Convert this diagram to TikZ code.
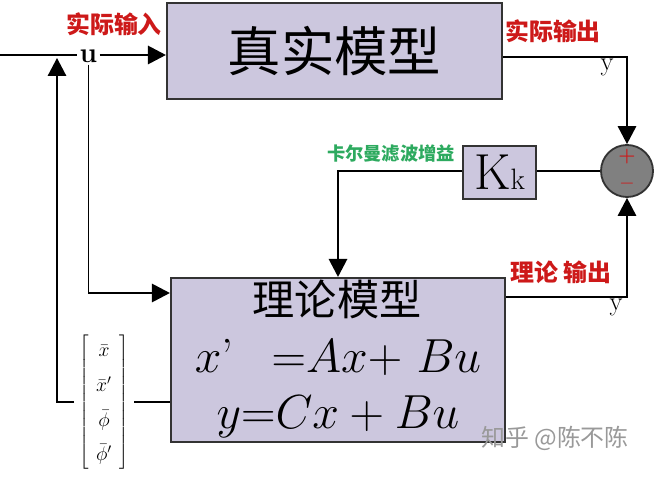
\RequirePackage{fix-cm}
\documentclass[tikz,border=0pt]{standalone}
\usepackage{fontspec}
\newfontfamily\cjk{Noto Sans CJK SC}
\usetikzlibrary{arrows.meta}
\definecolor{modelfill}{RGB}{204,199,222}
\definecolor{labelred}{RGB}{205,25,25}
\definecolor{labelgreen}{RGB}{45,170,95}

\begin{document}
\begin{tikzpicture}[x=0.025cm, y=-0.025cm, line width=1.3pt, >={Triangle[length=4.5mm, width=4.6mm]},
    model/.style={draw=black!80, line width=1.5pt, fill=modelfill, inner sep=0pt},
    redlabel/.style={text=labelred, font=\cjk\bfseries\fontsize{17}{17}\selectfont},
    sig/.style={inner sep=1pt, font=\fontsize{19}{19}\selectfont}]
  \useasboundingbox (0,0) rectangle (655,477);
  \node[model, minimum width=8.375cm, minimum height=2.4cm, font=\cjk\fontsize{38}{38}\selectfont] (real) at (334.5,51) {真实模型};
  \node[model, minimum width=8.35cm, minimum height=4.1cm] (theory) at (338,360) {};
  \node[font=\cjk\fontsize{30}{30}\selectfont] (title) at (337,299) {理论模型};
  \node[anchor=base, font=\fontsize{34}{34}\selectfont] (eqx) at (338,372) {$x$’\hspace{0.8em}$\mathord{=}Ax\mathord{+}\hspace{0.3em}Bu$};
  \node[anchor=base, font=\fontsize{34}{34}\selectfont] (eqy) at (338,428) {$y\mathord{=}Cx+Bu$};
  \node[model, line width=1.3pt, minimum width=1.825cm, minimum height=1.325cm] (kk) at (499.5,172.5) {{\fontsize{36}{36}\selectfont K}{\fontsize{21}{21}\selectfont k}};
  \node[circle, draw=black!80, fill=black!50, minimum size=1.3cm, inner sep=0pt] (sum) at (627,171) {};
  \node[text=labelred, font=\bfseries\fontsize{14}{14}\selectfont] (plus) at (627,157) {+};
  \node[text=labelred, font=\fontsize{14}{14}\selectfont] (minus) at (627,184) {$-$};
  \node[text=labelgreen, font=\cjk\bfseries\fontsize{13}{13}\selectfont] (gain) at (391,154) {卡尔曼滤波增益};
  \node[redlabel] (inlabel) at (114,24) {实际输入};
  \node[redlabel] (outlabel) at (553,31) {实际输出};
  \node[redlabel] (thlabel) at (561,272) {理论 输出};
  \node[sig, font=\bfseries\fontsize{20}{20}\selectfont] (u) at (88.5,56) {u};
  \node[sig, anchor=north] (yr) at (607,57) {y};
  \node[sig, anchor=north] (yt) at (616,297) {y};
  \node[font=\fontsize{14}{17}\selectfont] (state) at (104,402) {\renewcommand{\arraystretch}{1.45}$\left[\begin{array}{c}\bar{x}\\ \bar{x}'\\ \bar{\phi}\\ \bar{\phi}'\end{array}\right]$};
  \node[text=black!40, font=\cjk\fontsize{17}{17}\selectfont] (mark) at (555,438) {知乎 @陈不陈};
  \coordinate (in) at (0,55);
  \coordinate (back) at (57,58);
  \coordinate (tin) at (130,293);
  \draw (in) -- (in -| u.west);
  \draw[->] (in -| u.east) -- (in -| real.west);
  \draw[->] (u.south) |- (tin -| theory.west);
  \draw (theory.west |- state) -- (state.east);
  \draw[->] (state.west) -| (back);
  \draw[->] (real.east |- yr.north) -| (sum.north);
  \draw[->] (theory.east |- yt.north) -| (sum.south);
  \draw (sum.west) -- (kk.east |- sum.west);
  \draw[->] (kk.west |- sum.west) -| (theory.north);
\end{tikzpicture}
\end{document}
